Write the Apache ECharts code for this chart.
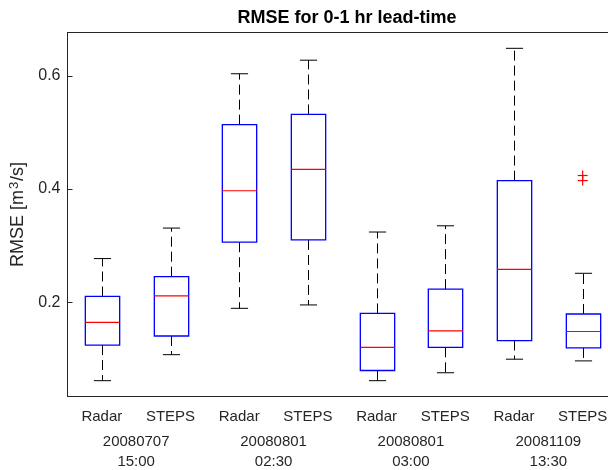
<!DOCTYPE html>
<html>
<head>
<meta charset="utf-8">
<script src="https://cdn.jsdelivr.net/npm/echarts@6/dist/echarts.min.js"></script>
<style>
  html, body { margin: 0; padding: 0; background: #fff; }
  #chart { width: 608px; height: 470px; }
</style>
</head>
<body>
<div id="chart"></div>
<script>
const categories = ['Radar', 'STEPS', 'Radar', 'STEPS', 'Radar', 'STEPS', 'Radar', 'STEPS']
const events = ['20080707\n15:00', '20080801\n02:30', '20080801\n03:00', '20081109\n13:30']

// box statistics, one entry per category
const lowerWhisker = [0.061, 0.107, 0.189, 0.195, 0.061, 0.075, 0.099, 0.096]
const q1 = [0.124, 0.140, 0.306, 0.310, 0.079, 0.120, 0.132, 0.119]
const median = [0.164, 0.211, 0.397, 0.435, 0.120, 0.149, 0.258, 0.148]
const q3 = [0.210, 0.245, 0.514, 0.532, 0.180, 0.223, 0.415, 0.179]
const upperWhisker = [0.277, 0.331, 0.604, 0.628, 0.324, 0.335, 0.649, 0.251]

const outlierCat = [7, 7]
const outlierVal = [0.424, 0.415]

const yTicks = [0.2, 0.4, 0.6]

const boxData = categories.map((c, i) => [i, lowerWhisker[i], q1[i], median[i], q3[i], upperWhisker[i]])
const outlierData = outlierCat.map((c, i) => [c, outlierVal[i]])

const axisColor = '#262626'
const font = 'Liberation Sans, Arial, sans-serif'

function renderBox(params, api) {
  const x = api.value(0)
  const band = api.size([1, 0])[0]
  const half = band * 0.25
  const cap = band * 0.125
  const low = api.coord([x, api.value(1)])
  const bq1 = api.coord([x, api.value(2)])
  const med = api.coord([x, api.value(3)])
  const bq3 = api.coord([x, api.value(4)])
  const high = api.coord([x, api.value(5)])
  const cx = Math.round(med[0]) + 0.5
  const dash = { stroke: '#000', lineWidth: 1, lineDash: [10, 5] }
  const solid = { stroke: '#000', lineWidth: 1 }
  return {
    type: 'group',
    children: [
      { type: 'line', shape: { x1: cx, y1: bq3[1], x2: cx, y2: high[1] }, style: dash },
      { type: 'line', shape: { x1: cx, y1: bq1[1], x2: cx, y2: low[1] }, style: dash },
      { type: 'line', shape: { x1: cx - cap, y1: high[1], x2: cx + cap, y2: high[1] }, style: solid },
      { type: 'line', shape: { x1: cx - cap, y1: low[1], x2: cx + cap, y2: low[1] }, style: solid },
      {
        type: 'rect',
        shape: { x: cx - half, y: bq3[1], width: half * 2, height: bq1[1] - bq3[1] },
        style: { fill: 'none', stroke: '#0000ff', lineWidth: 1.3 }
      },
      { type: 'line', shape: { x1: cx - half, y1: med[1], x2: cx + half, y2: med[1] }, style: { stroke: '#ff0000', lineWidth: 1.2 } }
    ]
  }
}

function renderPlus(params, api) {
  const p = api.coord([api.value(0), api.value(1)])
  const s = 5
  const st = { stroke: '#ff0000', lineWidth: 1.2 }
  return {
    type: 'group',
    children: [
      { type: 'line', shape: { x1: p[0] - s, y1: p[1], x2: p[0] + s, y2: p[1] }, style: st },
      { type: 'line', shape: { x1: p[0], y1: p[1] - s, x2: p[0], y2: p[1] + s }, style: st }
    ]
  }
}

const chart = echarts.init(document.getElementById('chart'))
chart.setOption({
  animation: false,
  backgroundColor: '#fff',
  title: {
    text: 'RMSE for 0-1 hr lead-time',
    left: 342,
    textAlign: 'center',
    top: 4,
    textStyle: { fontFamily: font, fontSize: 18, fontWeight: 'bold', color: '#000' }
  },
  grid: { left: 67.5, width: 549.5, top: 32.5, bottom: 73.5, outerBoundsMode: 'none', containLabel: false },
  xAxis: [
    {
      type: 'category',
      data: categories,
      position: 'bottom',
      boundaryGap: true,
      axisLine: { lineStyle: { color: axisColor } },
      axisTick: { inside: true, length: 5, alignWithLabel: true, lineStyle: { color: axisColor } },
      axisLabel: { margin: 13, fontFamily: font, fontSize: 15, color: axisColor }
    },
    {
      type: 'category',
      data: events,
      position: 'bottom',
      boundaryGap: true,
      axisLine: { show: false },
      axisTick: { show: false },
      axisLabel: { margin: 35, fontFamily: font, fontSize: 15, lineHeight: 20, color: axisColor }
    },
    {
      type: 'category',
      data: categories,
      position: 'top',
      boundaryGap: true,
      axisLine: { lineStyle: { color: axisColor } },
      axisTick: { inside: true, length: 5, alignWithLabel: true, lineStyle: { color: axisColor } },
      axisLabel: { show: false }
    }
  ],
  yAxis: {
    type: 'value',
    min: 0.033,
    max: 0.677,
    name: 'RMSE [m{sup|3}/s]',
    nameLocation: 'middle',
    nameRotate: 90,
    nameGap: 27,
    nameTextStyle: {
      fontFamily: font, fontSize: 18, color: axisColor,
      rich: { sup: { fontFamily: font, fontSize: 13, color: axisColor, verticalAlign: 'top', padding: [0, 1, 8, 1] } }
    },
    axisLine: { show: true, lineStyle: { color: axisColor } },
    axisTick: { show: true, inside: true, length: 5, customValues: yTicks, lineStyle: { color: axisColor } },
    axisLabel: { margin: 7, customValues: yTicks, fontFamily: font, fontSize: 16, color: axisColor, formatter: v => v.toFixed(1) },
    splitLine: { show: false }
  },
  series: [
    {
      type: 'custom',
      xAxisIndex: 0,
      renderItem: renderBox,
      encode: { x: 0, y: [1, 2, 3, 4, 5] },
      data: boxData,
      clip: false
    },
    {
      type: 'custom',
      xAxisIndex: 0,
      renderItem: renderPlus,
      encode: { x: 0, y: 1 },
      data: outlierData
    }
  ]
})
</script>
</body>
</html>
